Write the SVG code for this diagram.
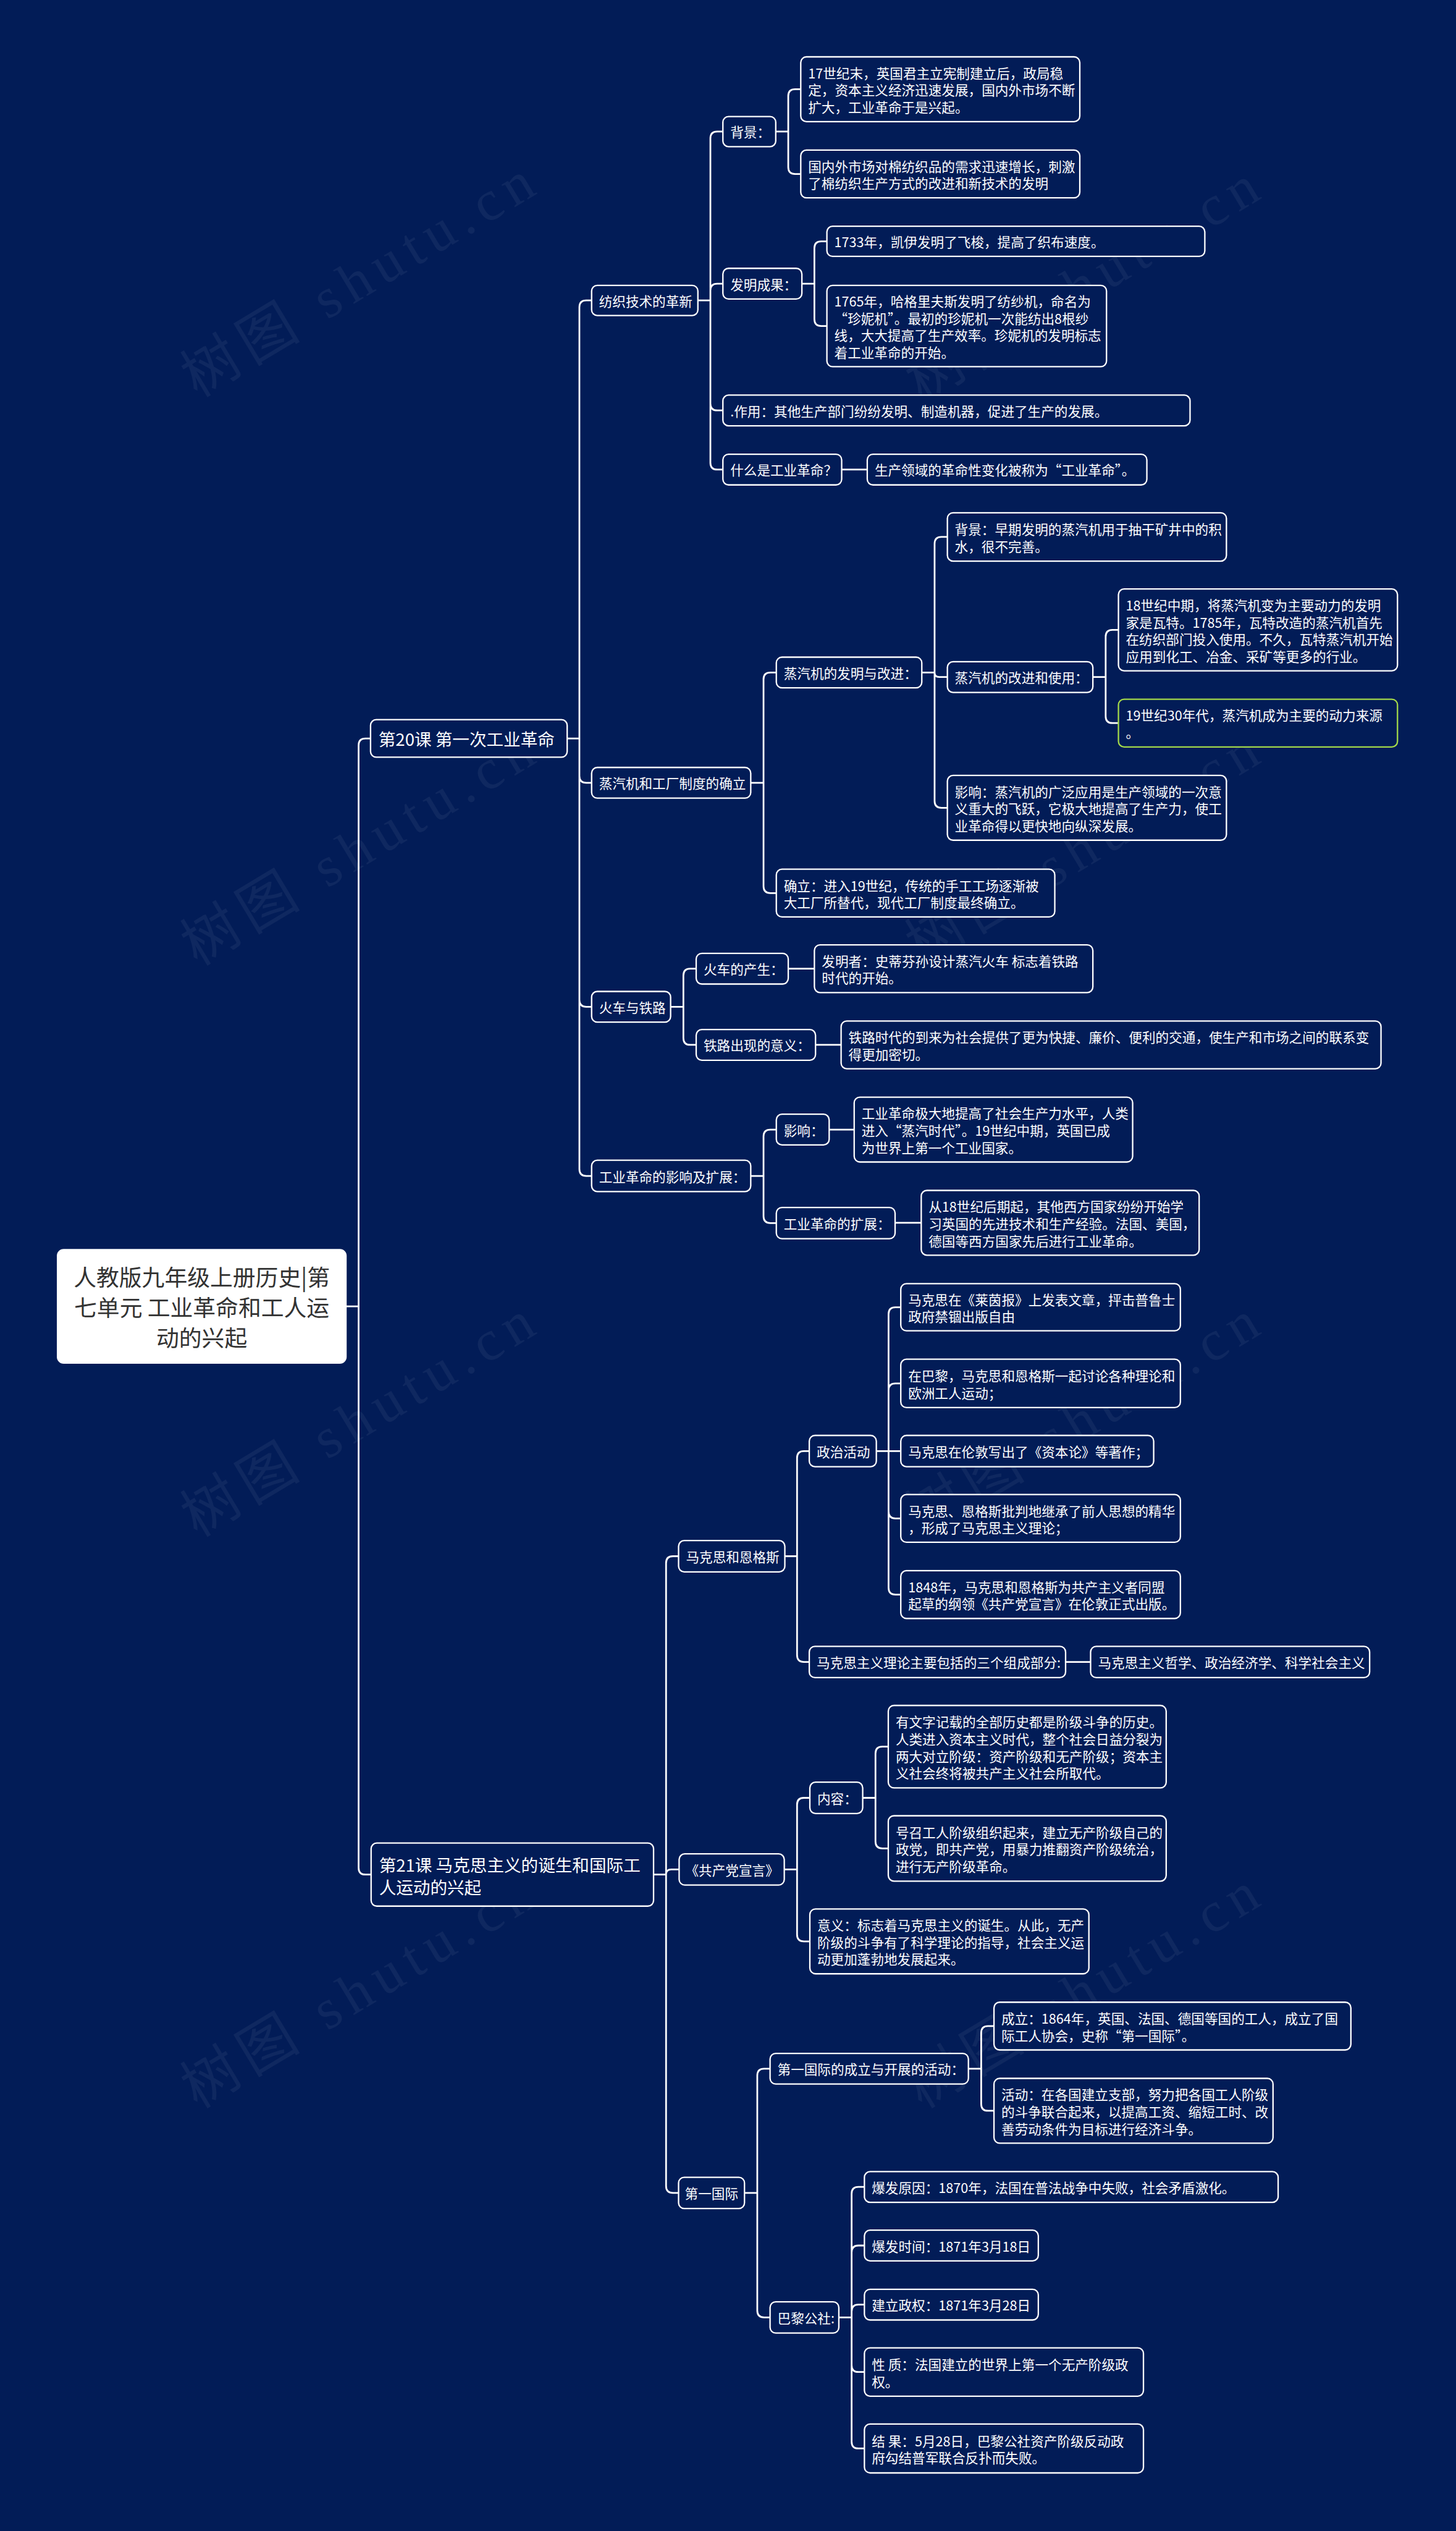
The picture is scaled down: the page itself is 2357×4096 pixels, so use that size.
<svg xmlns="http://www.w3.org/2000/svg" width="2357" height="4096" viewBox="0 0 2357 4096">
<style>
.box{fill:#021c57;stroke:#ffffff;stroke-width:2.5}
.green{stroke:#a3d84a}
.t{fill:#ffffff;font-family:"Noto Sans CJK SC","Noto Sans",sans-serif;font-size:23.5px;dominant-baseline:central}
.les{font-size:30px}
.root{fill:#333333;font-family:"Noto Sans CJK SC","Noto Sans",sans-serif;font-size:40px;dominant-baseline:central;text-anchor:middle}
.edge{fill:none;stroke:#ffffff;stroke-width:3;stroke-linecap:round}
.wm{fill:#ffffff;opacity:0.05;font-family:"Liberation Serif","Noto Sans CJK SC",serif;font-size:100px;text-anchor:middle}
</style>
<rect x="0" y="0" width="2357" height="4096" fill="#021c57"/>
<g transform="scale(0.92)">
<g id="watermarks">
<text class="wm" transform="translate(647,520) rotate(-31)" textLength="700" lengthAdjust="spacing">树图 shutu.cn</text>
<text class="wm" transform="translate(1922,528) rotate(-31)" textLength="700" lengthAdjust="spacing">树图 shutu.cn</text>
<text class="wm" transform="translate(647,1520) rotate(-31)" textLength="700" lengthAdjust="spacing">树图 shutu.cn</text>
<text class="wm" transform="translate(1922,1520) rotate(-31)" textLength="700" lengthAdjust="spacing">树图 shutu.cn</text>
<text class="wm" transform="translate(647,2525) rotate(-31)" textLength="700" lengthAdjust="spacing">树图 shutu.cn</text>
<text class="wm" transform="translate(1922,2525) rotate(-31)" textLength="700" lengthAdjust="spacing">树图 shutu.cn</text>
<text class="wm" transform="translate(647,3530) rotate(-31)" textLength="700" lengthAdjust="spacing">树图 shutu.cn</text>
<text class="wm" transform="translate(1922,3530) rotate(-31)" textLength="700" lengthAdjust="spacing">树图 shutu.cn</text>
</g>
<g id="connectors">
<path class="edge" d="M610 2298 H631 M631 2298 V1311 Q631 1299 643 1299 H652 M631 2298 V3285.5 Q631 3297.5 643 3297.5 H653"/>
<path class="edge" d="M998 1299 H1019.5 M1019.5 1299 V540.5 Q1019.5 528.5 1031.5 528.5 H1041 M1019.5 1299 V1365 Q1019.5 1377 1031.5 1377 H1041 M1019.5 1299 V1759 Q1019.5 1771 1031.5 1771 H1041 M1019.5 1299 V2056.5 Q1019.5 2068.5 1031.5 2068.5 H1041"/>
<path class="edge" d="M1228 528.5 H1250 M1250 528.5 V243.5 Q1250 231.5 1262 231.5 H1272 M1250 528.5 V511 Q1250 499 1262 499 H1272 M1250 528.5 V710 Q1250 722 1262 722 H1272 M1250 528.5 V814 Q1250 826 1262 826 H1272"/>
<path class="edge" d="M1365 231.5 H1387 M1387 231.5 V169 Q1387 157 1399 157 H1409 M1387 231.5 V294 Q1387 306 1399 306 H1409"/>
<path class="edge" d="M1411 499 H1433 M1433 499 V436.5 Q1433 424.5 1445 424.5 H1455 M1433 499 V561.5 Q1433 573.5 1445 573.5 H1455"/>
<path class="edge" d="M1481 826 H1526"/>
<path class="edge" d="M1321 1377 H1343.5 M1343.5 1377 V1195 Q1343.5 1183 1355.5 1183 H1366 M1343.5 1377 V1559 Q1343.5 1571 1355.5 1571 H1366"/>
<path class="edge" d="M1622 1183 H1644.5 M1644.5 1183 V956.5 Q1644.5 944.5 1656.5 944.5 H1667 M1644.5 1183 Q1644.5 1191 1652.5 1191 H1667 M1644.5 1183 V1409 Q1644.5 1421 1656.5 1421 H1667"/>
<path class="edge" d="M1923 1191 H1945.5 M1945.5 1191 V1120 Q1945.5 1108 1957.5 1108 H1968 M1945.5 1191 V1260 Q1945.5 1272 1957.5 1272 H1968"/>
<path class="edge" d="M1180 1771 H1202.5 M1202.5 1771 V1716 Q1202.5 1704 1214.5 1704 H1225 M1202.5 1771 V1826 Q1202.5 1838 1214.5 1838 H1225"/>
<path class="edge" d="M1387 1704 H1433"/>
<path class="edge" d="M1435 1838 H1480"/>
<path class="edge" d="M1321 2068.5 H1343.5 M1343.5 2068.5 V1999 Q1343.5 1987 1355.5 1987 H1366 M1343.5 2068.5 V2139.5 Q1343.5 2151.5 1355.5 2151.5 H1366"/>
<path class="edge" d="M1459 1987 H1503"/>
<path class="edge" d="M1575 2151 H1621"/>
<path class="edge" d="M1150 3297.5 H1172 M1172 3297.5 V2749.5 Q1172 2737.5 1184 2737.5 H1194 M1172 3297.5 Q1172 3288.5 1181 3288.5 H1195 M1172 3297.5 V3845.5 Q1172 3857.5 1184 3857.5 H1194"/>
<path class="edge" d="M1381 2737.5 H1402.5 M1402.5 2737.5 V2564.5 Q1402.5 2552.5 1414.5 2552.5 H1424 M1402.5 2737.5 V2911.5 Q1402.5 2923.5 1414.5 2923.5 H1424"/>
<path class="edge" d="M1542 2552.5 H1585 M1563.5 2552.5 V2311.5 Q1563.5 2299.5 1575.5 2299.5 H1585 M1563.5 2552.5 V2445.5 Q1563.5 2433.5 1575.5 2433.5 H1585 M1563.5 2552.5 V2659 Q1563.5 2671 1575.5 2671 H1585 M1563.5 2552.5 V2793 Q1563.5 2805 1575.5 2805 H1585"/>
<path class="edge" d="M1875 2923.5 H1919"/>
<path class="edge" d="M1380 3288.5 H1402.5 M1402.5 3288.5 V3174.5 Q1402.5 3162.5 1414.5 3162.5 H1425 M1402.5 3288.5 V3403 Q1402.5 3415 1414.5 3415 H1425"/>
<path class="edge" d="M1518 3162.5 H1540.5 M1540.5 3162.5 V3084.5 Q1540.5 3072.5 1552.5 3072.5 H1563 M1540.5 3162.5 V3239.5 Q1540.5 3251.5 1552.5 3251.5 H1563"/>
<path class="edge" d="M1310 3857.5 H1332.5 M1332.5 3857.5 V3651 Q1332.5 3639 1344.5 3639 H1355 M1332.5 3857.5 V4064.5 Q1332.5 4076.5 1344.5 4076.5 H1355"/>
<path class="edge" d="M1704 3639 H1726.5 M1726.5 3639 V3576 Q1726.5 3564 1738.5 3564 H1749 M1726.5 3639 V3701 Q1726.5 3713 1738.5 3713 H1749"/>
<path class="edge" d="M1476 4076.5 H1498.5 M1498.5 4076.5 V3859 Q1498.5 3847 1510.5 3847 H1521 M1498.5 4076.5 V3962 Q1498.5 3950 1510.5 3950 H1521 M1498.5 4076.5 V4066 Q1498.5 4054 1510.5 4054 H1521 M1498.5 4076.5 V4160.5 Q1498.5 4172.5 1510.5 4172.5 H1521 M1498.5 4076.5 V4295 Q1498.5 4307 1510.5 4307 H1521"/>
</g>
<g id="n0"><rect x="100" y="2197" width="510" height="202" rx="12" fill="#ffffff"/><text class="root" x="355"><tspan x="355" y="2245">人教版九年级上册历史|第</tspan><tspan x="355" y="2298">七单元 工业革命和工人运</tspan><tspan x="355" y="2351">动的兴起</tspan></text></g>
<g id="n1"><rect class="box" x="652" y="1266" width="346" height="66" rx="10"/><text class="t les" x="666" y="1299">第20课 第一次工业革命</text></g>
<g id="n2"><rect class="box" x="653" y="3242" width="497" height="111" rx="10"/><text class="t les"><tspan x="667" y="3279">第21课 马克思主义的诞生和国际工</tspan><tspan x="667" y="3319">人运动的兴起</tspan></text></g>
<g id="n11"><rect class="box" x="1041" y="502" width="187" height="53" rx="10"/><text class="t" x="1054" y="528.5">纺织技术的革新</text></g>
<g id="n111"><rect class="box" x="1272" y="205" width="93" height="53" rx="10"/><text class="t" x="1285" y="231.5">背景：</text></g>
<g id="n1111"><rect class="box" x="1409" y="100" width="491" height="114" rx="10"/><text class="t"><tspan x="1422" y="127">17世纪末，英国君主立宪制建立后，政局稳</tspan><tspan x="1422" y="157">定，资本主义经济迅速发展，国内外市场不断</tspan><tspan x="1422" y="187">扩大，工业革命于是兴起。</tspan></text></g>
<g id="n1112"><rect class="box" x="1409" y="264" width="491" height="84" rx="10"/><text class="t"><tspan x="1422" y="291">国内外市场对棉纺织品的需求迅速增长，刺激</tspan><tspan x="1422" y="321">了棉纺织生产方式的改进和新技术的发明</tspan></text></g>
<g id="n112"><rect class="box" x="1272" y="472" width="139" height="54" rx="10"/><text class="t" x="1285" y="499">发明成果：</text></g>
<g id="n1121"><rect class="box" x="1455" y="398" width="665" height="53" rx="10"/><text class="t" x="1468" y="424.5">1733年，凯伊发明了飞梭，提高了织布速度。</text></g>
<g id="n1122"><rect class="box" x="1455" y="502" width="492" height="143" rx="10"/><text class="t"><tspan x="1468" y="528.5">1765年，哈格里夫斯发明了纺纱机，命名为</tspan><tspan x="1468" y="558.5">“珍妮机”。最初的珍妮机一次能纺出8根纱</tspan><tspan x="1468" y="588.5">线，大大提高了生产效率。珍妮机的发明标志</tspan><tspan x="1468" y="618.5">着工业革命的开始。</tspan></text></g>
<g id="n113"><rect class="box" x="1272" y="695" width="822" height="54" rx="10"/><text class="t" x="1285" y="722">.作用：其他生产部门纷纷发明、制造机器，促进了生产的发展。</text></g>
<g id="n114"><rect class="box" x="1272" y="799" width="209" height="54" rx="10"/><text class="t" x="1285" y="826">什么是工业革命？</text></g>
<g id="n1141"><rect class="box" x="1526" y="799" width="492" height="54" rx="10"/><text class="t" x="1539" y="826">生产领域的革命性变化被称为“工业革命”。</text></g>
<g id="n12"><rect class="box" x="1041" y="1350" width="280" height="54" rx="10"/><text class="t" x="1054" y="1377">蒸汽机和工厂制度的确立</text></g>
<g id="n121"><rect class="box" x="1366" y="1156" width="256" height="54" rx="10"/><text class="t" x="1379" y="1183">蒸汽机的发明与改进：</text></g>
<g id="n1211"><rect class="box" x="1667" y="902" width="491" height="85" rx="10"/><text class="t"><tspan x="1680" y="929.5">背景：早期发明的蒸汽机用于抽干矿井中的积</tspan><tspan x="1680" y="959.5">水，很不完善。</tspan></text></g>
<g id="n1212"><rect class="box" x="1667" y="1164" width="256" height="54" rx="10"/><text class="t" x="1680" y="1191">蒸汽机的改进和使用：</text></g>
<g id="n12121"><rect class="box" x="1968" y="1036" width="491" height="144" rx="10"/><text class="t"><tspan x="1981" y="1063">18世纪中期，将蒸汽机变为主要动力的发明</tspan><tspan x="1981" y="1093">家是瓦特。1785年，瓦特改造的蒸汽机首先</tspan><tspan x="1981" y="1123">在纺织部门投入使用。不久，瓦特蒸汽机开始</tspan><tspan x="1981" y="1153">应用到化工、冶金、采矿等更多的行业。</tspan></text></g>
<g id="n12122"><rect class="box green" x="1968" y="1230" width="491" height="84" rx="10"/><text class="t"><tspan x="1981" y="1257">19世纪30年代，蒸汽机成为主要的动力来源</tspan><tspan x="1981" y="1287">。</tspan></text></g>
<g id="n1213"><rect class="box" x="1667" y="1364" width="491" height="114" rx="10"/><text class="t"><tspan x="1680" y="1391">影响：蒸汽机的广泛应用是生产领域的一次意</tspan><tspan x="1680" y="1421">义重大的飞跃，它极大地提高了生产力，使工</tspan><tspan x="1680" y="1451">业革命得以更快地向纵深发展。</tspan></text></g>
<g id="n122"><rect class="box" x="1366" y="1529" width="490" height="84" rx="10"/><text class="t"><tspan x="1379" y="1556">确立：进入19世纪，传统的手工工场逐渐被</tspan><tspan x="1379" y="1586">大工厂所替代，现代工厂制度最终确立。</tspan></text></g>
<g id="n13"><rect class="box" x="1041" y="1744" width="139" height="54" rx="10"/><text class="t" x="1054" y="1771">火车与铁路</text></g>
<g id="n131"><rect class="box" x="1225" y="1677" width="162" height="54" rx="10"/><text class="t" x="1238" y="1704">火车的产生：</text></g>
<g id="n1311"><rect class="box" x="1433" y="1662" width="490" height="84" rx="10"/><text class="t"><tspan x="1446" y="1689">发明者：史蒂芬孙设计蒸汽火车 标志着铁路</tspan><tspan x="1446" y="1719">时代的开始。</tspan></text></g>
<g id="n132"><rect class="box" x="1225" y="1811" width="210" height="54" rx="10"/><text class="t" x="1238" y="1838">铁路出现的意义：</text></g>
<g id="n1321"><rect class="box" x="1480" y="1796" width="950" height="84" rx="10"/><text class="t"><tspan x="1493" y="1823">铁路时代的到来为社会提供了更为快捷、廉价、便利的交通，使生产和市场之间的联系变</tspan><tspan x="1493" y="1853">得更加密切。</tspan></text></g>
<g id="n14"><rect class="box" x="1041" y="2041" width="280" height="55" rx="10"/><text class="t" x="1054" y="2068.5">工业革命的影响及扩展：</text></g>
<g id="n141"><rect class="box" x="1366" y="1960" width="93" height="54" rx="10"/><text class="t" x="1379" y="1987">影响：</text></g>
<g id="n1411"><rect class="box" x="1503" y="1930" width="490" height="114" rx="10"/><text class="t"><tspan x="1516" y="1957">工业革命极大地提高了社会生产力水平，人类</tspan><tspan x="1516" y="1987">进入“蒸汽时代”。19世纪中期，英国已成</tspan><tspan x="1516" y="2017">为世界上第一个工业国家。</tspan></text></g>
<g id="n142"><rect class="box" x="1366" y="2124" width="209" height="55" rx="10"/><text class="t" x="1379" y="2151.5">工业革命的扩展：</text></g>
<g id="n1421"><rect class="box" x="1621" y="2094" width="489" height="114" rx="10"/><text class="t"><tspan x="1634" y="2121">从18世纪后期起，其他西方国家纷纷开始学</tspan><tspan x="1634" y="2151">习英国的先进技术和生产经验。法国、美国，</tspan><tspan x="1634" y="2181">德国等西方国家先后进行工业革命。</tspan></text></g>
<g id="n21"><rect class="box" x="1194" y="2710" width="187" height="55" rx="10"/><text class="t" x="1207" y="2737.5">马克思和恩格斯</text></g>
<g id="n211"><rect class="box" x="1424" y="2525" width="118" height="55" rx="10"/><text class="t" x="1437" y="2552.5">政治活动</text></g>
<g id="n2111"><rect class="box" x="1585" y="2258" width="492" height="83" rx="10"/><text class="t"><tspan x="1598" y="2284.5">马克思在《莱茵报》上发表文章，抨击普鲁士</tspan><tspan x="1598" y="2314.5">政府禁锢出版自由</tspan></text></g>
<g id="n2112"><rect class="box" x="1585" y="2391" width="492" height="85" rx="10"/><text class="t"><tspan x="1598" y="2418.5">在巴黎，马克思和恩格斯一起讨论各种理论和</tspan><tspan x="1598" y="2448.5">欧洲工人运动；</tspan></text></g>
<g id="n2113"><rect class="box" x="1585" y="2525" width="445" height="55" rx="10"/><text class="t" x="1598" y="2552.5">马克思在伦敦写出了《资本论》等著作；</text></g>
<g id="n2114"><rect class="box" x="1585" y="2629" width="492" height="84" rx="10"/><text class="t"><tspan x="1598" y="2656">马克思、恩格斯批判地继承了前人思想的精华</tspan><tspan x="1598" y="2686">，形成了马克思主义理论；</tspan></text></g>
<g id="n2115"><rect class="box" x="1585" y="2763" width="492" height="84" rx="10"/><text class="t"><tspan x="1598" y="2790">1848年，马克思和恩格斯为共产主义者同盟</tspan><tspan x="1598" y="2820">起草的纲领《共产党宣言》在伦敦正式出版。</tspan></text></g>
<g id="n212"><rect class="box" x="1424" y="2896" width="451" height="55" rx="10"/><text class="t" x="1437" y="2923.5">马克思主义理论主要包括的三个组成部分:</text></g>
<g id="n2121"><rect class="box" x="1919" y="2896" width="491" height="55" rx="10"/><text class="t" x="1932" y="2923.5">马克思主义哲学、政治经济学、科学社会主义</text></g>
<g id="n22"><rect class="box" x="1195" y="3261" width="185" height="55" rx="10"/><text class="t" x="1206" y="3288.5">《共产党宣言》</text></g>
<g id="n221"><rect class="box" x="1425" y="3135" width="93" height="55" rx="10"/><text class="t" x="1438" y="3162.5">内容：</text></g>
<g id="n2211"><rect class="box" x="1563" y="3000" width="489" height="145" rx="10"/><text class="t"><tspan x="1576" y="3027.5">有文字记载的全部历史都是阶级斗争的历史。</tspan><tspan x="1576" y="3057.5">人类进入资本主义时代，整个社会日益分裂为</tspan><tspan x="1576" y="3087.5">两大对立阶级：资产阶级和无产阶级；资本主</tspan><tspan x="1576" y="3117.5">义社会终将被共产主义社会所取代。</tspan></text></g>
<g id="n2212"><rect class="box" x="1563" y="3194" width="489" height="115" rx="10"/><text class="t"><tspan x="1576" y="3221.5">号召工人阶级组织起来，建立无产阶级自己的</tspan><tspan x="1576" y="3251.5">政党，即共产党，用暴力推翻资产阶级统治，</tspan><tspan x="1576" y="3281.5">进行无产阶级革命。</tspan></text></g>
<g id="n222"><rect class="box" x="1425" y="3358" width="491" height="114" rx="10"/><text class="t"><tspan x="1438" y="3385">意义：标志着马克思主义的诞生。从此，无产</tspan><tspan x="1438" y="3415">阶级的斗争有了科学理论的指导，社会主义运</tspan><tspan x="1438" y="3445">动更加蓬勃地发展起来。</tspan></text></g>
<g id="n23"><rect class="box" x="1194" y="3830" width="116" height="55" rx="10"/><text class="t" x="1205" y="3857.5">第一国际</text></g>
<g id="n231"><rect class="box" x="1355" y="3612" width="349" height="54" rx="10"/><text class="t" x="1368" y="3639">第一国际的成立与开展的活动：</text></g>
<g id="n2311"><rect class="box" x="1749" y="3522" width="628" height="84" rx="10"/><text class="t"><tspan x="1762" y="3549">成立：1864年，英国、法国、德国等国的工人，成立了国</tspan><tspan x="1762" y="3579">际工人协会，史称“第一国际”。</tspan></text></g>
<g id="n2312"><rect class="box" x="1749" y="3656" width="491" height="114" rx="10"/><text class="t"><tspan x="1762" y="3683">活动：在各国建立支部，努力把各国工人阶级</tspan><tspan x="1762" y="3713">的斗争联合起来，以提高工资、缩短工时、改</tspan><tspan x="1762" y="3743">善劳动条件为目标进行经济斗争。</tspan></text></g>
<g id="n232"><rect class="box" x="1355" y="4049" width="121" height="55" rx="10"/><text class="t" x="1368" y="4076.5">巴黎公社:</text></g>
<g id="n2321"><rect class="box" x="1521" y="3820" width="728" height="54" rx="10"/><text class="t" x="1534" y="3847">爆发原因：1870年，法国在普法战争中失败，社会矛盾激化。</text></g>
<g id="n2322"><rect class="box" x="1521" y="3923" width="306" height="54" rx="10"/><text class="t" x="1534" y="3950">爆发时间：1871年3月18日</text></g>
<g id="n2323"><rect class="box" x="1521" y="4027" width="306" height="54" rx="10"/><text class="t" x="1534" y="4054">建立政权：1871年3月28日</text></g>
<g id="n2324"><rect class="box" x="1521" y="4130" width="491" height="85" rx="10"/><text class="t"><tspan x="1534" y="4157.5">性 质：法国建立的世界上第一个无产阶级政</tspan><tspan x="1534" y="4187.5">权。</tspan></text></g>
<g id="n2325"><rect class="box" x="1521" y="4264" width="491" height="86" rx="10"/><text class="t"><tspan x="1534" y="4292">结 果：5月28日，巴黎公社资产阶级反动政</tspan><tspan x="1534" y="4322">府勾结普军联合反扑而失败。</tspan></text></g>
</g>
</svg>
